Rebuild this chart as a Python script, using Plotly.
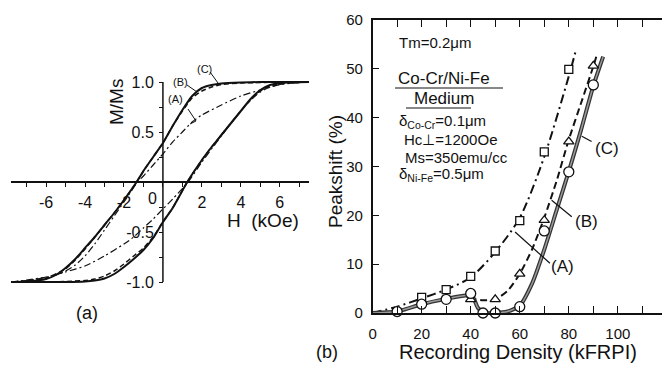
import plotly.graph_objects as go

# ---------------- Panel (a): hysteresis loops ----------------
H_C_up = [7.5, 6, 5, 4, 3, 2.5, 2, 1.5, 1, 0.5, 0, -0.5, -1, -1.35, -2, -2.5, -3, -3.5, -4, -4.5, -5, -5.5, -6, -7, -7.8]
M_C_up = [1.0, 1.0, 1.0, 0.995, 0.985, 0.97, 0.94, 0.86, 0.72, 0.56, 0.39, 0.25, 0.11, 0.0, -0.18, -0.31, -0.43, -0.55, -0.66, -0.77, -0.86, -0.93, -0.97, -0.995, -1.0]
H_C_lo = [-7.8, -5, -4, -3.5, -3, -2.5, -2, -1.5, -1, -0.5, 0, 0.5, 1.25, 2, 2.5, 3, 3.5, 4, 4.5, 5, 5.5, 6, 7.5]
M_C_lo = [-1.0, -1.0, -0.995, -0.985, -0.965, -0.92, -0.85, -0.77, -0.68, -0.56, -0.40, -0.26, 0.0, 0.22, 0.35, 0.47, 0.59, 0.71, 0.83, 0.92, 0.97, 0.99, 1.0]

H_B_up = [7.5, 6, 5, 4, 3, 2.5, 2, 1.5, 1, 0.5, 0, -0.5, -1, -1.35, -2, -2.5, -3, -3.5, -4, -4.5, -5, -5.5, -6, -7, -7.8]
M_B_up = [1.0, 1.0, 0.995, 0.99, 0.975, 0.95, 0.91, 0.84, 0.71, 0.56, 0.39, 0.25, 0.11, 0.0, -0.18, -0.31, -0.43, -0.55, -0.67, -0.78, -0.87, -0.92, -0.96, -0.99, -1.0]
H_B_lo = [-7.8, -5, -4, -3.5, -3, -2.5, -2, -1.5, -1, -0.5, 0, 0.5, 1.25, 2, 2.5, 3, 3.5, 4, 4.5, 5, 5.5, 6, 7.5]
M_B_lo = [-1.0, -0.995, -0.985, -0.97, -0.94, -0.89, -0.82, -0.74, -0.66, -0.55, -0.40, -0.26, 0.0, 0.22, 0.35, 0.47, 0.59, 0.71, 0.82, 0.91, 0.96, 0.985, 1.0]

H_A_up = [7.5, 6.5, 6, 5, 4, 3, 2, 1.5, 1, 0.5, 0, -0.5, -1, -1.3, -2, -2.5, -3, -3.5, -4, -4.5, -5, -5.5, -6, -7, -7.8]
M_A_up = [1.0, 0.99, 0.975, 0.92, 0.86, 0.77, 0.67, 0.60, 0.50, 0.40, 0.28, 0.17, 0.06, 0.0, -0.20, -0.34, -0.48, -0.62, -0.74, -0.83, -0.89, -0.93, -0.955, -0.985, -1.0]
H_A_lo = [-7.8, -7, -6, -5, -4, -3, -2, -1.5, -1, -0.5, 0, 0.5, 1.3, 2, 2.5, 3, 3.5, 4, 4.5, 5, 5.5, 6, 7.5]
M_A_lo = [-1.0, -0.98, -0.95, -0.90, -0.84, -0.74, -0.62, -0.55, -0.46, -0.37, -0.27, -0.17, 0.0, 0.20, 0.33, 0.46, 0.59, 0.71, 0.82, 0.90, 0.95, 0.975, 1.0]

a_xtick_vals = [-7, -6, -5, -4, -3, -2, -1, 0, 1, 2, 3, 4, 5, 6, 7]
a_xtick_text = ["", "-6", "", "-4", "", "-2", "", "", "", "2", "", "4", "", "6", ""]
a_ytick_vals = [-1.0, -0.75, -0.5, -0.25, 0, 0.25, 0.5, 0.75, 1.0]
a_ytick_text = ["-1.0", "", "-0.5", "", "", "", "0.5", "", "1.0"]

# ---------------- Panel (b): peakshift ----------------
sq_x = [20, 30, 40, 50, 60, 70, 80]
sq_y = [3.2, 4.8, 7.5, 12.7, 18.9, 33.0, 49.9]
tri_x = [40, 50, 60, 70, 80, 90]
tri_y = [2.8, 2.8, 8.0, 19.0, 35.1, 50.6]
cir_x = [10, 20, 30, 40, 45, 50, 60, 70, 80, 90]
cir_y = [0.3, 1.8, 2.8, 4.0, 0.0, 0.0, 1.3, 16.8, 28.9, 46.7]

curveA_x = [0, 10, 20, 30, 40, 50, 60, 70, 80, 83]
curveA_y = [0, 1.3, 3.0, 4.8, 7.3, 12.5, 19.5, 32, 48.5, 54]
curveB_x = [0, 10, 20, 30, 38, 41, 45, 50, 55, 60, 65, 70, 75, 80, 85, 90, 91.5]
curveB_y = [0, 0.4, 1.8, 2.9, 3.5, 3.0, 2.6, 2.8, 4.5, 8.0, 13, 19.5, 27, 35.5, 43, 50.5, 53]
curveC_x = [0, 10, 20, 30, 38, 41, 43, 46, 50, 55, 60, 65, 70, 75, 80, 85, 90, 94]
curveC_y = [0, 0.3, 1.8, 2.9, 3.6, 3.1, 1.0, 0.0, 0.0, 0.3, 1.5, 6.0, 13.0, 21, 29, 37.5, 46.5, 52.5]

b_xtick_vals = [0, 10, 20, 30, 40, 50, 60, 70, 80, 90, 100, 110]
b_xtick_text = ["0", "", "20", "", "40", "", "60", "", "80", "", "100", ""]
b_ytick_vals = [0, 10, 20, 30, 40, 50, 60]

FONT = "Liberation Sans"
BLACK = "#111"

fig = go.Figure()

def loop_line(x, y, dash, width):
    fig.add_trace(go.Scatter(x=x, y=y, mode="lines", xaxis="x", yaxis="y",
                             line=dict(color=BLACK, width=width, dash=dash, shape="spline", smoothing=0.6),
                             hoverinfo="skip", showlegend=False))

loop_line(H_A_up, M_A_up, "7px,3px,2px,3px", 1.2)
loop_line(H_A_lo, M_A_lo, "7px,3px,2px,3px", 1.2)
loop_line(H_B_up, M_B_up, "5px,3px", 1.5)
loop_line(H_B_lo, M_B_lo, "5px,3px", 1.5)
loop_line(H_C_up, M_C_up, "solid", 2)
loop_line(H_C_lo, M_C_lo, "solid", 2)

# panel b curves
fig.add_trace(go.Scatter(x=curveA_x, y=curveA_y, mode="lines", xaxis="x2", yaxis="y2",
                         line=dict(color=BLACK, width=2, dash="9px,4px,2px,4px", shape="spline", smoothing=0.8),
                         hoverinfo="skip", showlegend=False))
fig.add_trace(go.Scatter(x=curveB_x, y=curveB_y, mode="lines", xaxis="x2", yaxis="y2",
                         line=dict(color=BLACK, width=2, dash="7px,4px", shape="spline", smoothing=0.6),
                         hoverinfo="skip", showlegend=False))
fig.add_trace(go.Scatter(x=curveC_x, y=curveC_y, mode="lines", xaxis="x2", yaxis="y2",
                         line=dict(color="#333", width=4, shape="spline", smoothing=0.6),
                         hoverinfo="skip", showlegend=False))
fig.add_trace(go.Scatter(x=curveC_x, y=curveC_y, mode="lines", xaxis="x2", yaxis="y2",
                         line=dict(color="#9a9a9a", width=1.5, shape="spline", smoothing=0.6),
                         hoverinfo="skip", showlegend=False))

mk_line = dict(color=BLACK, width=1.3)
fig.add_trace(go.Scatter(x=sq_x, y=sq_y, mode="markers", xaxis="x2", yaxis="y2", cliponaxis=False,
                         marker=dict(symbol="square", size=8, color="white", line=mk_line), showlegend=False))
fig.add_trace(go.Scatter(x=tri_x, y=tri_y, mode="markers", xaxis="x2", yaxis="y2", cliponaxis=False,
                         marker=dict(symbol="triangle-up", size=9, color="white", line=mk_line), showlegend=False))
fig.add_trace(go.Scatter(x=cir_x, y=cir_y, mode="markers", xaxis="x2", yaxis="y2", cliponaxis=False,
                         marker=dict(symbol="circle", size=10, color="white", line=mk_line), showlegend=False))

W, Hh = 662, 365
def px(xp):
    return xp / W
def py(yp):
    return 1 - yp / Hh

fig.update_layout(
    width=W, height=Hh, margin=dict(l=0, r=0, t=0, b=0, pad=0, autoexpand=False),
    paper_bgcolor="white", plot_bgcolor="rgba(0,0,0,0)",
    font=dict(family=FONT, color=BLACK),
    xaxis=dict(domain=[px(11), px(309)], range=[-7.8, 7.5], anchor="free", position=py(182),
               showline=True, linecolor=BLACK, linewidth=1.5, showgrid=False, zeroline=False,
               tickmode="array", tickvals=a_xtick_vals, ticktext=a_xtick_text,
               ticks="outside", ticklen=4, tickwidth=1, tickcolor=BLACK, automargin=False,
               tickfont=dict(size=16, family=FONT, color=BLACK), ticklabelstandoff=2),
    yaxis=dict(domain=[py(287), py(77)], range=[-1.05, 1.05], anchor="free", position=px(163),
               showline=False, showgrid=False, zeroline=False, automargin=False,
               tickmode="array", tickvals=a_ytick_vals, ticktext=a_ytick_text,
               ticks="outside", ticklen=4, tickwidth=1, tickcolor=BLACK,
               tickfont=dict(size=16, family=FONT, color=BLACK), ticklabelstandoff=2),
    xaxis2=dict(domain=[px(372.6), 1.0], range=[0, 118], anchor="y2", automargin=False,
                showline=True, linecolor=BLACK, linewidth=1.5, mirror="ticks", showgrid=False, zeroline=False,
                tickmode="array", tickvals=b_xtick_vals, ticktext=b_xtick_text,
                ticks="inside", ticklen=7, tickwidth=1.2, tickcolor=BLACK,
                tickfont=dict(size=15, family=FONT, color=BLACK), ticklabelstandoff=6),
    yaxis2=dict(domain=[py(313), py(20)], range=[0, 60], anchor="x2", automargin=False,
                showline=True, linecolor=BLACK, linewidth=1.5, mirror=False, showgrid=False, zeroline=False,
                tickmode="array", tickvals=b_ytick_vals,
                ticks="inside", ticklen=7, tickwidth=1.2, tickcolor=BLACK,
                tickfont=dict(size=15, family=FONT, color=BLACK), ticklabelstandoff=5),
)

shapes = []
# vertical axis of panel (a), from -1 to 1
shapes.append(dict(type="line", xref="x", yref="y", x0=0, x1=0, y0=-1.0, y1=1.0,
                   line=dict(color=BLACK, width=1.5)))
def pline(x0, y0, x1, y1, w=1.0):
    shapes.append(dict(type="line", xref="paper", yref="paper", x0=px(x0), y0=py(y0), x1=px(x1), y1=py(y1),
                       line=dict(color=BLACK, width=w)))
# leader lines panel (a) (pixel positions)
pline(210, 72, 218, 83)
pline(187, 85, 197, 92)
pline(188, 109, 196, 121)
pline(196, 121, 190, 124)
# leader lines panel (b)
shapes.append(dict(type="line", xref="x2", yref="y2", x0=85.3, y0=36.2, x1=89.3, y1=35.1, line=dict(color=BLACK, width=1.2)))
shapes.append(dict(type="line", xref="x2", yref="y2", x0=73.0, y0=23.1, x1=81.2, y1=19.7, line=dict(color=BLACK, width=1.2)))
shapes.append(dict(type="line", xref="x2", yref="y2", x0=58.1, y0=16.6, x1=72.3, y1=10.2, line=dict(color=BLACK, width=1.2)))
# underlines
pline(395, 88, 503, 88)
pline(406, 108, 471, 108)
fig.update_layout(shapes=shapes)

ann = []
def A(text, x, y, size, xref="paper", yref="paper", xanchor="center", yanchor="middle", angle=0):
    ann.append(dict(text=text, x=x, y=y, xref=xref, yref=yref, showarrow=False, xanchor=xanchor,
                    yanchor=yanchor, textangle=angle, font=dict(size=size, family=FONT, color=BLACK)))

# panel (a) texts
A("0", px(152), py(198), 16)
A("M/Ms", px(117), py(102), 19, angle=-90)
A("H  (kOe)", px(263), py(220), 19)
A("(a)", px(87), py(313), 18)
A("(C)", px(204), py(69), 11)
A("(B)", px(180), py(82), 11)
A("(A)", px(175), py(99), 11)
# panel (b) texts
A("Peakshift (%)", px(335), py(171), 19, angle=-90)
A("Recording Density (kFRPI)", px(518), py(352), 20)
A("(b)", px(327), py(352), 18)
A("(C)", 95.6, 33.6, 17, xref="x2", yref="y2")
A("(B)", 87.3, 18.7, 17, xref="x2", yref="y2")
A("(A)", 77.6, 9.5, 17, xref="x2", yref="y2")
A("Tm=0.2μm", px(397), py(43), 15, xanchor="left")
A("Co-Cr/Ni-Fe", px(396), py(78), 17, xanchor="left")
A("Medium", px(412), py(98), 17, xanchor="left")
A("δ<sub>Co-Cr</sub>=0.1μm", px(397), py(121), 15, xanchor="left")
A("Hc⊥=1200Oe", px(402), py(139), 15, xanchor="left")
A("Ms=350emu/cc", px(403), py(157), 15, xanchor="left")
A("δ<sub>Ni-Fe</sub>=0.5μm", px(397), py(174), 15, xanchor="left")
fig.update_layout(annotations=ann)

fig.write_html("out.html", config={"displayModeBar": False},
               post_script="document.body.style.margin='0';document.body.style.overflow='hidden';")
